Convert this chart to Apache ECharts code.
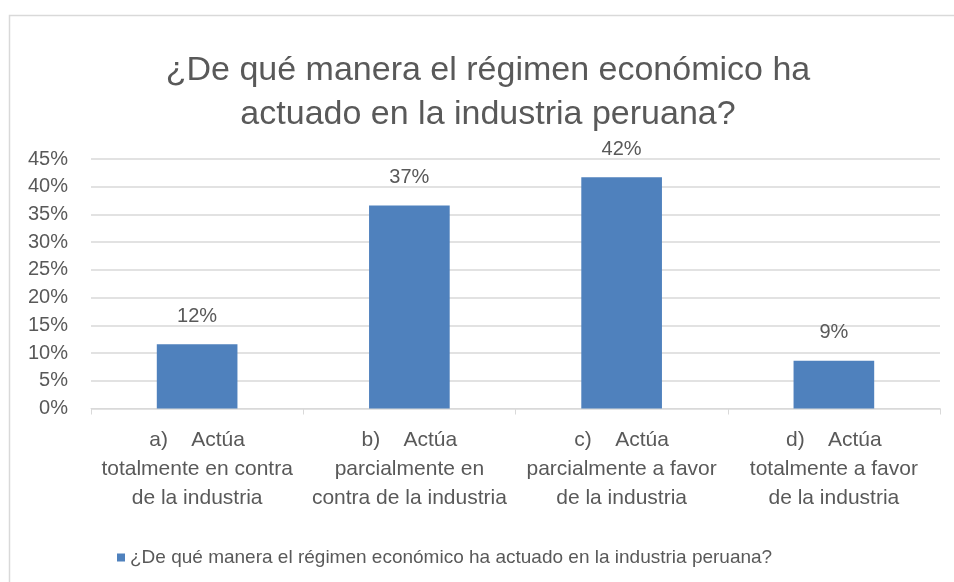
<!DOCTYPE html>
<html lang="es">
<head>
  <meta charset="UTF-8">
  <title>Régimen económico e industria peruana</title>
  <script src="https://cdn.jsdelivr.net/npm/echarts@6.0.0/dist/echarts.min.js"></script>
  <style>
    body { margin: 0; padding: 0; background: #fff; }
    #chart { width: 954px; height: 582px; }
  </style>
</head>
<body>
  <div id="chart"></div>
  <script>
    // datos
    var titulo = '¿De qué manera el régimen económico ha\nactuado en la industria peruana?';
    var serieNombre = '¿De qué manera el régimen económico ha actuado en la industria peruana?';
    var categorias = [
      'a)    Actúa\ntotalmente en contra\nde la industria',
      'b)    Actúa\nparcialmente en\ncontra de la industria',
      'c)    Actúa\nparcialmente a favor\nde la industria',
      'd)    Actúa\ntotalmente a favor\nde la industria'
    ];
    var valores = [0.116, 0.366, 0.417, 0.086];
    var etiquetas = ['12%', '37%', '42%', '9%'];

    var fuente = 'Liberation Sans, Arial, sans-serif';
    var gris = '#595959';

    var chart = echarts.init(document.getElementById('chart'));
    chart.setOption({
      animation: false,
      textStyle: { fontFamily: fuente },
      graphic: [{
        type: 'rect',
        silent: true,
        shape: { x: 9.5, y: 15.5, width: 1000, height: 700 },
        style: { fill: 'none', stroke: '#d9d9d9', lineWidth: 1.5 }
      }],
      title: {
        text: titulo,
        left: 488,
        top: 49,
        padding: 0,
        textAlign: 'center',
        textStyle: {
          fontFamily: fuente,
          fontWeight: 'normal',
          fontSize: 34,
          lineHeight: 44,
          color: gris
        }
      },
      legend: {
        left: 112,
        top: 543,
        icon: 'rect',
        itemWidth: 8,
        itemHeight: 8,
        itemGap: 5,
        textStyle: { fontFamily: fuente, fontSize: 19, color: gris },
        data: [serieNombre]
      },
      grid: { left: 91, right: 14, top: 159, bottom: 173.5 },
      xAxis: {
        type: 'category',
        data: categorias,
        axisLine: { lineStyle: { color: '#d9d9d9', width: 1 } },
        axisTick: { show: true, length: 6, lineStyle: { color: '#d9d9d9' } },
        axisLabel: {
          interval: 0,
          margin: 17,
          fontSize: 21,
          lineHeight: 29,
          color: gris
        }
      },
      yAxis: {
        type: 'value',
        min: 0,
        max: 0.45,
        interval: 0.05,
        axisLine: { show: false },
        axisTick: { show: false },
        splitLine: { lineStyle: { color: '#d9d9d9', width: 1.5 } },
        axisLabel: {
          margin: 23,
          fontSize: 20,
          color: gris,
          formatter: function (v) { return Math.round(v * 100) + '%'; }
        }
      },
      series: [{
        name: serieNombre,
        type: 'bar',
        data: valores,
        barWidth: '38%',
        itemStyle: { color: '#4f81bd' },
        label: {
          show: true,
          position: 'top',
          distance: 18,
          fontSize: 20,
          color: gris,
          formatter: function (p) { return etiquetas[p.dataIndex]; }
        }
      }]
    });
  </script>
</body>
</html>
